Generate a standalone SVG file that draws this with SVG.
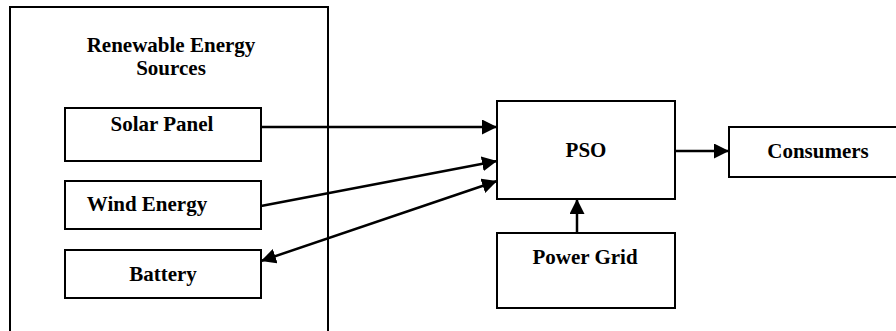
<svg xmlns="http://www.w3.org/2000/svg" width="896" height="331" viewBox="0 0 896 331">
<style>
.box{fill:#fff;stroke:#000;stroke-width:2}
.lbl{font-family:'Liberation Serif','DejaVu Serif',serif;font-weight:bold;font-size:21px;fill:#000;text-anchor:middle}
.conn{stroke:#000;stroke-width:2.5;fill:none}
</style>
<defs>
<marker id="ah" viewBox="0 0 10 10" refX="10" refY="5" markerWidth="6" markerHeight="6" markerUnits="strokeWidth" orient="auto-start-reverse">
<path d="M0,0 L10,5 L0,10 z" fill="#000"/>
</marker>
</defs>
<rect width="896" height="331" fill="#fff"/>
<g id="res">
<path d="M10,335 L10,7 L328,7 L328,335" class="box" fill="none"/>
<text class="lbl" x="171" y="52">Renewable Energy</text>
<text class="lbl" x="171" y="75">Sources</text>
</g>
<g id="solar">
<rect class="box" x="65" y="108" width="196" height="53"/>
<text class="lbl" x="162" y="131">Solar Panel</text>
</g>
<g id="wind">
<rect class="box" x="65" y="181" width="196" height="48"/>
<text class="lbl" x="147" y="211">Wind Energy</text>
</g>
<g id="battery">
<rect class="box" x="65" y="250" width="196" height="48"/>
<text class="lbl" x="163" y="281">Battery</text>
</g>
<g id="pso">
<rect class="box" x="497" y="101" width="178" height="98"/>
<text class="lbl" x="586" y="157">PSO</text>
</g>
<g id="consumers">
<rect class="box" x="729" y="127" width="180" height="50"/>
<text class="lbl" x="818" y="158">Consumers</text>
</g>
<g id="grid">
<rect class="box" x="497" y="233" width="178" height="75"/>
<text class="lbl" x="585" y="264">Power Grid</text>
</g>
<g id="connectors">
<line class="conn" x1="261" y1="127" x2="497" y2="127" marker-end="url(#ah)"/>
<line class="conn" x1="261" y1="206" x2="497" y2="161" marker-end="url(#ah)"/>
<line class="conn" x1="261" y1="261" x2="497" y2="181" marker-start="url(#ah)" marker-end="url(#ah)"/>
<line class="conn" x1="675" y1="151" x2="729" y2="151" marker-end="url(#ah)"/>
<line class="conn" x1="577" y1="233" x2="577" y2="199" marker-end="url(#ah)"/>
</g>
</svg>
